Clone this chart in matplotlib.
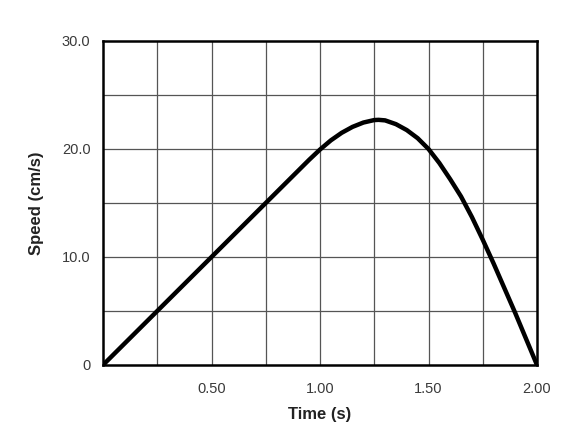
import numpy as np
import matplotlib
matplotlib.use("Agg")
import matplotlib.pyplot as plt

plt.rcParams['font.family'] = ['Liberation Sans', 'DejaVu Sans']

# speed
time_s = [0.0, 0.95, 1.0, 1.05, 1.10, 1.15, 1.20, 1.25, 1.27, 1.30, 1.35, 1.40, 1.45,
          1.50, 1.55, 1.60, 1.65, 1.70, 1.75, 1.80, 1.85, 1.90, 1.95, 2.0]
speed = [0.0, 19.0, 19.95, 20.8, 21.5, 22.05, 22.45, 22.68, 22.7, 22.65, 22.3, 21.75, 21.0,
         20.0, 18.7, 17.2, 15.6, 13.7, 11.6, 9.4, 7.1, 4.8, 2.4, 0.0]

xticks = [0.50, 1.00, 1.50, 2.00]
xticklabels = ['0.50', '1.00', '1.50', '2.00']
yticks = [0, 10, 20, 30]
yticklabels = ['0', '10.0', '20.0', '30.0']

fig = plt.figure(figsize=(5.84, 4.46), dpi=100)
ax = fig.add_axes([103/584, 81/446, 434/584, 324/446])

ax.plot(time_s, speed, color='black', lw=3.2, solid_capstyle='butt',
        solid_joinstyle='round', zorder=3)

ax.set_xlim(0, 2.0)
ax.set_ylim(0, 30)

# grid every 0.25 s and 5 cm/s
for gx in np.arange(0.25, 2.0, 0.25):
    ax.axvline(gx, color='#555555', lw=0.9, zorder=1)
for gy in np.arange(5, 30, 5):
    ax.axhline(gy, color='#555555', lw=0.9, zorder=1)

ax.set_xticks(xticks)
ax.set_xticklabels(xticklabels)
ax.set_yticks(yticks)
ax.set_yticklabels(yticklabels)
ax.tick_params(length=0, labelsize=10.5, labelcolor='#3a3a3a')
ax.tick_params(axis='x', pad=12)
ax.tick_params(axis='y', pad=9)

for s in ax.spines.values():
    s.set_linewidth(1.8)
    s.set_color('black')

ax.set_xlabel('Time (s)', fontsize=12, fontweight='bold', color='#222222', labelpad=8)
ax.set_ylabel('Speed (cm/s)', fontsize=12, fontweight='bold', color='#222222', labelpad=13)

fig.savefig('out.png', dpi=100)
